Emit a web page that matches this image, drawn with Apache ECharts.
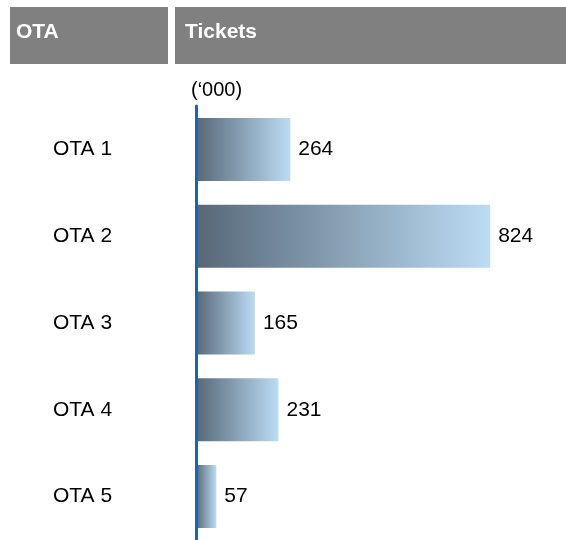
<!DOCTYPE html>
<html>
<head>
<meta charset="utf-8">
<script src="https://cdn.jsdelivr.net/npm/echarts@6/dist/echarts.min.js"></script>
<style>
  html, body { margin: 0; padding: 0; background: #fff; }
  #chart { width: 566px; height: 540px; }
</style>
</head>
<body>
<div id="chart"></div>
<script>
  const categories = ['OTA 1', 'OTA 2', 'OTA 3', 'OTA 4', 'OTA 5']
  const tickets = [264, 824, 165, 231, 57]
  const headers = ['OTA', 'Tickets']
  const unitLabel = '(‘000)'

  const font = '"Liberation Sans", Arial, sans-serif'
  const chart = echarts.init(document.getElementById('chart'))

  chart.setOption({
    animation: false,
    textStyle: { fontFamily: font },
    grid: {
      left: 196,
      top: 106,
      width: 357,
      height: 434,
      containLabel: false,
    },
    xAxis: {
      type: 'value',
      min: 0,
      max: 1000,
      show: false,
    },
    yAxis: {
      type: 'category',
      inverse: true,
      data: categories,
      z: 5,
      axisLine: {
        show: true,
        lineStyle: { color: '#1b64b0', width: 3 },
      },
      axisTick: { show: false },
      axisLabel: {
        align: 'left',
        margin: 143,
        fontSize: 21,
        color: '#000',
        fontFamily: font,
      },
    },
    graphic: [
      // header boxes
      {
        type: 'rect',
        shape: { x: 10, y: 7, width: 158, height: 57 },
        style: { fill: '#808080' },
      },
      {
        type: 'rect',
        shape: { x: 175, y: 7, width: 391, height: 57 },
        style: { fill: '#808080' },
      },
      {
        type: 'text',
        x: 16,
        y: 32,
        style: { text: headers[0], fill: '#fff', font: 'bold 21px ' + font, verticalAlign: 'middle' },
      },
      {
        type: 'text',
        x: 185,
        y: 32,
        style: { text: headers[1], fill: '#fff', font: 'bold 21px ' + font, verticalAlign: 'middle' },
      },
      {
        type: 'text',
        x: 191,
        y: 90,
        style: { text: unitLabel, fill: '#000', font: '20px ' + font, verticalAlign: 'middle' },
      },
    ],
    series: [
      {
        type: 'bar',
        data: tickets,
        barWidth: 63,
        itemStyle: {
          color: new echarts.graphic.LinearGradient(0, 0, 1, 0, [
            { offset: 0, color: '#566878' },
            { offset: 1, color: '#bcdcf4' },
          ]),
        },
        label: {
          show: true,
          position: 'right',
          distance: 8,
          fontSize: 21,
          color: '#000',
          fontFamily: font,
        },
      },
    ],
  })
</script>
</body>
</html>
